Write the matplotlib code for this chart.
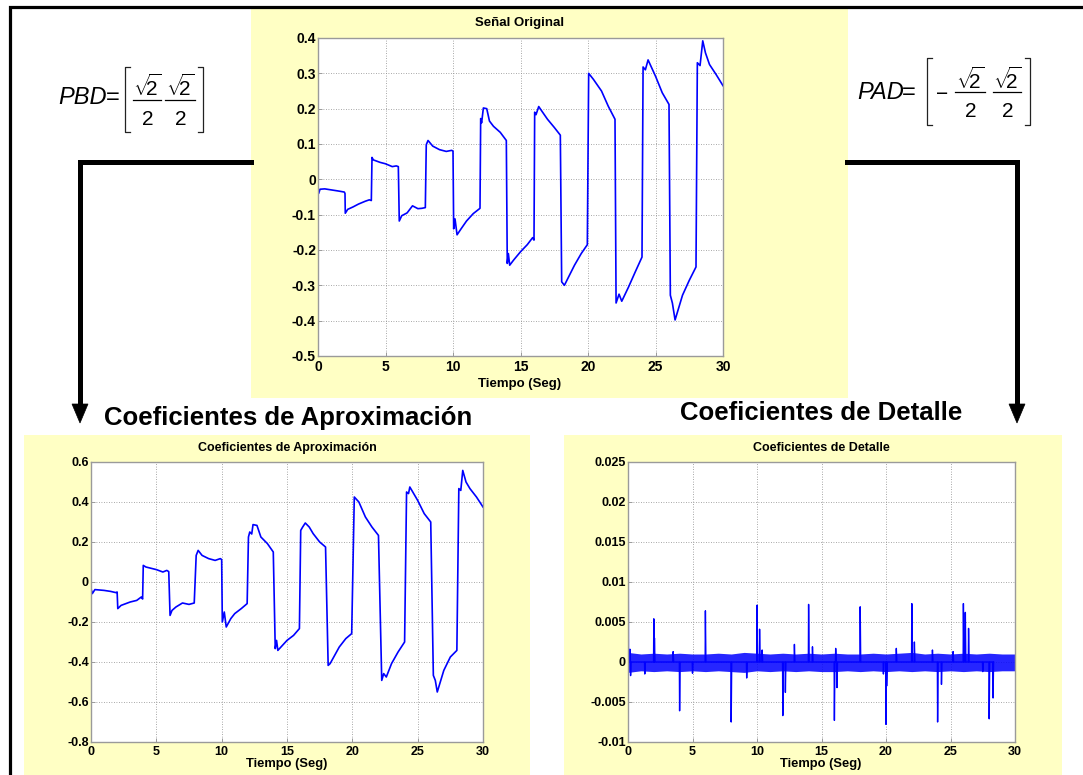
import matplotlib
matplotlib.use("Agg")
import matplotlib.pyplot as plt
from matplotlib.lines import Line2D
from matplotlib.patches import Rectangle, Polygon
from matplotlib.ticker import FuncFormatter

plt.rcParams['font.family'] = ['Liberation Sans', 'DejaVu Sans']
plt.rcParams['axes.unicode_minus'] = False
plt.rcParams['mathtext.fontset'] = 'custom'
plt.rcParams['mathtext.rm'] = 'Liberation Sans'
plt.rcParams['mathtext.it'] = 'Liberation Sans:italic'
plt.rcParams['mathtext.bf'] = 'Liberation Sans:bold'

# ---------------- data ----------------
sig_t = [0.00, 0.05, 0.15, 0.50, 1.00, 1.50, 1.95, 2.00,
         2.02, 2.20, 2.60, 3.00, 3.50, 3.80, 3.95,
         4.00, 4.10, 4.60, 5.00, 5.50, 5.80, 5.95,
         6.02, 6.20, 6.60, 7.00, 7.40, 7.70, 7.95,
         8.02, 8.15, 8.50, 9.00, 9.50, 9.90, 10.00,
         10.05, 10.15, 10.30, 10.60, 11.00, 11.50, 11.90, 12.00,
         12.05, 12.12, 12.25, 12.50, 12.70, 13.00, 13.50, 13.95,
         14.02, 14.10, 14.20, 14.50, 15.00, 15.50, 15.90, 16.00,
         16.05, 16.15, 16.35, 16.60, 17.00, 17.50, 17.95,
         18.05, 18.25, 19.00, 19.50, 19.95,
         20.05, 20.40, 21.00, 21.50, 22.00,
         22.08, 22.30, 22.50, 23.00, 23.50, 24.00,
         24.08, 24.25, 24.45, 25.00, 25.50, 26.00,
         26.10, 26.25, 26.45, 27.00, 27.50, 28.00,
         28.10, 28.30, 28.50, 28.70, 29.00, 29.50, 30.00]
sig_v = [-0.020, -0.040, -0.028, -0.027, -0.030, -0.033, -0.036, -0.040,
         -0.096, -0.085, -0.078, -0.070, -0.062, -0.058, -0.060,
         0.062, 0.055, 0.048, 0.044, 0.036, 0.038, 0.036,
         -0.118, -0.103, -0.095, -0.075, -0.083, -0.082, -0.080,
         0.098, 0.110, 0.094, 0.084, 0.079, 0.082, 0.080,
         -0.140, -0.112, -0.157, -0.140, -0.118, -0.097, -0.085, -0.082,
         0.172, 0.160, 0.202, 0.200, 0.165, 0.150, 0.133, 0.110,
         -0.238, -0.210, -0.243, -0.228, -0.205, -0.185, -0.165, -0.172,
         0.190, 0.183, 0.206, 0.192, 0.170, 0.147, 0.125,
         -0.290, -0.300, -0.243, -0.210, -0.185,
         0.300, 0.283, 0.250, 0.207, 0.170,
         -0.350, -0.325, -0.345, -0.305, -0.262, -0.220,
         0.318, 0.310, 0.338, 0.292, 0.245, 0.212,
         -0.328, -0.350, -0.398, -0.328, -0.286, -0.248,
         0.330, 0.322, 0.392, 0.358, 0.325, 0.296, 0.265]

apr_t = [0.00, 0.10, 0.30, 1.00, 1.50, 1.90, 2.00,
         2.05, 2.30, 3.00, 3.50, 3.85, 3.95,
         4.00, 4.20, 5.00, 5.50, 5.80, 5.95,
         6.05, 6.20, 6.50, 7.00, 7.50, 7.90,
         8.05, 8.20, 8.50, 9.00, 9.50, 9.90, 10.00,
         10.05, 10.20, 10.35, 10.70, 11.00, 11.50, 11.95,
         12.05, 12.15, 12.30, 12.40, 12.70, 13.00, 13.50, 13.95,
         14.10, 14.20, 14.30, 15.00, 15.50, 15.95,
         16.05, 16.20, 16.40, 16.70, 17.00, 17.50, 17.95,
         18.15, 18.30, 19.00, 19.50, 19.95,
         20.15, 20.50, 21.00, 21.50, 22.00,
         22.25, 22.40, 22.60, 23.00, 23.50, 24.00,
         24.15, 24.30, 24.40, 25.00, 25.50, 26.00,
         26.20, 26.35, 26.50, 27.00, 27.50, 28.00,
         28.15, 28.30, 28.45, 28.70, 29.00, 29.50, 30.00]
apr_v = [-0.033, -0.058, -0.038, -0.042, -0.047, -0.053, -0.050,
         -0.133, -0.117, -0.100, -0.092, -0.075, -0.085,
         0.083, 0.075, 0.062, 0.050, 0.058, 0.052,
         -0.167, -0.142, -0.125, -0.105, -0.112, -0.105,
         0.133, 0.158, 0.133, 0.117, 0.108, 0.117, 0.112,
         -0.200, -0.150, -0.225, -0.183, -0.158, -0.133, -0.108,
         0.225, 0.250, 0.240, 0.287, 0.283, 0.225, 0.192, 0.150,
         -0.333, -0.292, -0.342, -0.292, -0.267, -0.233,
         0.258, 0.275, 0.295, 0.275, 0.242, 0.200, 0.175,
         -0.417, -0.408, -0.325, -0.283, -0.258,
         0.425, 0.400, 0.325, 0.275, 0.233,
         -0.492, -0.458, -0.475, -0.408, -0.350, -0.300,
         0.450, 0.442, 0.475, 0.408, 0.342, 0.300,
         -0.467, -0.492, -0.550, -0.442, -0.375, -0.342,
         0.467, 0.458, 0.558, 0.500, 0.467, 0.425, 0.375]

# detail coefficients: noise band envelope (1 s steps) and spikes
band_t = list(range(0, 31))
band_hi = [0.0012, 0.0010, 0.0011, 0.0010, 0.0011, 0.0010, 0.0010, 0.0011,
           0.0010, 0.0012, 0.0011, 0.0010, 0.0011, 0.0010, 0.0011, 0.0010,
           0.0011, 0.0010, 0.0010, 0.0011, 0.0010, 0.0011, 0.0012, 0.0010,
           0.0011, 0.0010, 0.0011, 0.0010, 0.0011, 0.0010, 0.0010]
band_lo = [-0.0013, -0.0011, -0.0012, -0.0011, -0.0012, -0.0011, -0.0012,
           -0.0011, -0.0012, -0.0013, -0.0011, -0.0012, -0.0011, -0.0012,
           -0.0011, -0.0012, -0.0012, -0.0011, -0.0012, -0.0011, -0.0012,
           -0.0011, -0.0012, -0.0011, -0.0012, -0.0011, -0.0012, -0.0011,
           -0.0012, -0.0011, -0.0011]
spike_t = [0.00, 0.15, 0.20, 1.30, 2.00, 2.05, 3.50, 4.00, 5.00, 6.00,
           8.00, 9.20, 10.00, 10.20, 10.40, 12.00, 12.20, 12.90, 14.00,
           14.30, 16.00, 16.10, 16.20, 18.00, 19.80, 20.00, 20.05, 20.80,
           22.00, 22.20, 23.60, 24.00, 24.30, 25.20, 26.00, 26.15, 26.40,
           27.50, 28.00, 28.30]
spike_v = [0.0300, 0.0016, -0.0017, -0.0015, 0.0054, 0.0030, 0.0013,
           -0.0061, -0.0014, 0.0064, -0.0075, -0.0020, 0.0071, 0.0041,
           0.0015, -0.0067, -0.0038, 0.0022, 0.0072, 0.0019, -0.0073,
           0.0017, -0.0032, 0.0069, -0.0015, -0.0078, -0.0030, 0.0017,
           0.0073, 0.0025, 0.0015, -0.0075, -0.0028, 0.0013, 0.0073,
           0.0062, 0.0042, -0.0012, -0.0071, -0.0045]

x_ticks = [0, 5, 10, 15, 20, 25, 30]
y_ticks_sig = [-0.5, -0.4, -0.3, -0.2, -0.1, 0, 0.1, 0.2, 0.3, 0.4]
y_ticks_apr = [-0.8, -0.6, -0.4, -0.2, 0, 0.2, 0.4, 0.6]
y_ticks_det = [-0.01, -0.005, 0, 0.005, 0.01, 0.015, 0.02, 0.025]

# ---------------- figure ----------------
W, H = 1083, 775
fig = plt.figure(figsize=(W / 100, H / 100), dpi=100)
fig.patch.set_facecolor('white')
YEL = '#ffffc4'
BLUE = '#0000ff'
SPINE = '#9a9a9a'


def fx(x):
    return x / W


def fy(y):
    return 1 - y / H


def panel(x0, y0, x1, y1):
    fig.add_artist(Rectangle((fx(x0), fy(y1)), (x1 - x0) / W, (y1 - y0) / H,
                             transform=fig.transFigure, facecolor=YEL,
                             edgecolor='none', zorder=0))


def fline(xs, ys, lw, color='black', z=1, **kw):
    fig.add_artist(Line2D([fx(v) for v in xs], [fy(v) for v in ys],
                          transform=fig.transFigure, lw=lw, color=color,
                          zorder=z, **kw))


def ftext(x, y, s, **kw):
    fig.text(fx(x), fy(y), s, **kw)


# outer frame
fline([10, 10, W + 5], [H + 5, 7, 7], 2.3, solid_joinstyle='miter')

# panels
panel(251, 9, 848, 398)
panel(24, 435, 530, H + 2)
panel(564, 435, 1062, H + 2)

# arrows
fline([251, 80, 80], [162, 162, 406], 3.6, solid_joinstyle='miter')
fline([847, 1017, 1017], [162, 162, 406], 3.6, solid_joinstyle='miter')
for xa in (80, 1017):
    fig.add_artist(Polygon([(fx(xa - 8), fy(404)), (fx(xa + 8), fy(404)),
                            (fx(xa), fy(423))], closed=True,
                           transform=fig.transFigure, facecolor='black',
                           edgecolor='black', lw=0.5, zorder=2))

# headings
ftext(288, 425, 'Coeficientes de Aproximación', fontsize=18.5,
      fontweight='bold', ha='center', va='baseline')
ftext(821, 420, 'Coeficientes de Detalle', fontsize=18.5,
      fontweight='bold', ha='center', va='baseline')


# ---------------- formulas ----------------
def bracket(x, y0, y1, side):
    d = 5 if side == 'l' else -5
    fline([x + d, x, x, x + d], [y0, y0, y1, y1], 0.9, color='#222222', z=3)


def frac(xc, ybar, half, num_base, den_base):
    fline([xc - half, xc + half], [ybar, ybar], 0.9, color='black', z=3)
    ftext(xc, num_base, r'$\sqrt{\!\!2}$', fontsize=15, ha='center',
          va='baseline', fontweight='normal')
    ftext(xc + 1, den_base, '2', fontsize=15, ha='center', va='baseline',
          fontweight='normal')


ftext(58, 104, 'PBD', fontsize=17, style='italic', fontweight='normal',
      ha='left', va='baseline')
ftext(106, 104, '=', fontsize=17, fontweight='normal', ha='left',
      va='baseline')
bracket(124.5, 67, 132, 'l')
frac(147, 99.5, 14, 96, 125)
frac(180, 99.5, 15, 96, 125)
bracket(203, 67, 132, 'r')

ftext(857, 99, 'PAD', fontsize=17, style='italic', fontweight='normal',
      ha='left', va='baseline')
ftext(902, 99, '=', fontsize=17, fontweight='normal', ha='left',
      va='baseline')
bracket(927, 58, 125, 'l')
ftext(942, 99.5, '\u2212', fontsize=15, fontweight='normal', ha='center',
      va='baseline')
frac(970, 92, 15, 89, 117)
frac(1007, 92, 14, 89, 117)
bracket(1030, 58, 125, 'r')


# ---------------- axes ----------------
def make_ax(l, t, r, b, ylim, yticks, lsize):
    ax = fig.add_axes([fx(l), fy(b), (r - l) / W, (b - t) / H])
    ax.set_facecolor('white')
    ax.set_xlim(0, 30)
    ax.set_ylim(*ylim)
    ax.set_xticks(x_ticks)
    ax.set_yticks(yticks)
    ax.xaxis.set_major_formatter(FuncFormatter(lambda v, p: '%g' % v))
    ax.yaxis.set_major_formatter(FuncFormatter(lambda v, p: '%g' % round(v, 6)))
    ax.grid(True, color='#8c8c8c', linestyle=(0, (1, 2)), lw=0.6)
    ax.set_axisbelow(True)
    for s in ax.spines.values():
        s.set_color(SPINE)
        s.set_linewidth(1.0)
    ax.tick_params(direction='in', length=3, width=0.7, color=SPINE,
                   labelsize=lsize, pad=1.5)
    ax.tick_params(axis='x', pad=3)
    for lb in ax.get_xticklabels() + ax.get_yticklabels():
        lb.set_fontweight('bold')
    return ax


ax1 = make_ax(318, 38, 723, 356, (-0.5, 0.4), y_ticks_sig, 10)
ax1.plot(sig_t, sig_v, color=BLUE, lw=1.2)
ftext(520, 26, 'Señal Original', fontsize=9.5, fontweight='bold',
      ha='center', va='baseline')
ftext(520, 386.5, 'Tiempo (Seg)', fontsize=9.5, fontweight='bold',
      ha='center', va='baseline')

ax2 = make_ax(91, 462, 483, 742, (-0.8, 0.6), y_ticks_apr, 9)
ax2.plot(apr_t, apr_v, color=BLUE, lw=1.2)
ftext(287, 451, 'Coeficientes de Aproximación', fontsize=9, fontweight='bold',
      ha='center', va='baseline')
ftext(287, 767, 'Tiempo (Seg)', fontsize=9.3, fontweight='bold',
      ha='center', va='baseline')

ax3 = make_ax(628, 462, 1015, 742, (-0.01, 0.025), y_ticks_det, 9)
ax3.fill_between(band_t, band_lo, band_hi, color=BLUE, alpha=0.85, lw=0)
sx, sy = [], []
for t, v in zip(spike_t, spike_v):
    sx += [max(t - 0.02, 0), t, t + 0.04]
    sy += [0, v, 0]
ax3.plot(sx, sy, color=BLUE, lw=1.0)
ftext(821, 451, 'Coeficientes de Detalle', fontsize=9, fontweight='bold',
      ha='center', va='baseline')
ftext(821, 767, 'Tiempo (Seg)', fontsize=9.3, fontweight='bold',
      ha='center', va='baseline')

fig.savefig('out.png', dpi=100, facecolor='white')
